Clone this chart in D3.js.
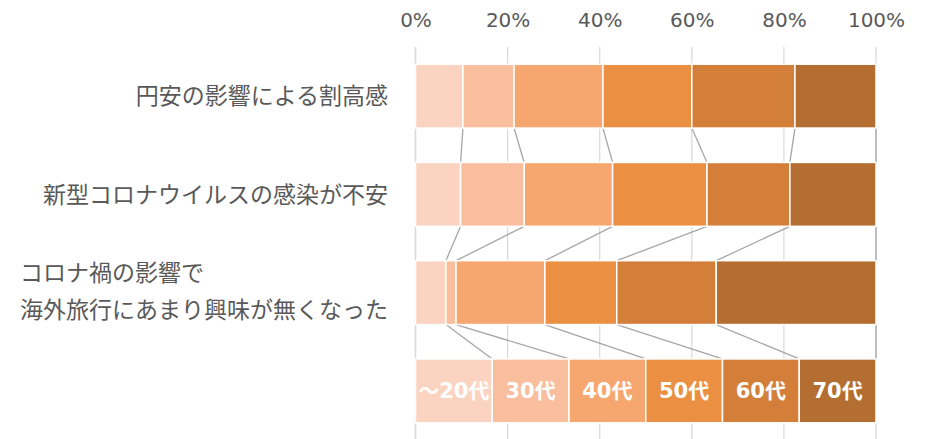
<!DOCTYPE html>
<html>
<head>
<meta charset="utf-8">
<script src="https://cdn.jsdelivr.net/npm/d3@7"></script>
<style>
  html, body { margin: 0; padding: 0; background: #fff; }
  svg { display: block; }
</style>
</head>
<body>
<svg id="chart" width="928" height="439"></svg>
<script>
// Reasons for not travelling abroad, share by age group (each row sums to 100%)
const categories = [
  "円安の影響による割高感",
  "新型コロナウイルスの感染が不安",
  "コロナ禍の影響で\n海外旅行にあまり興味が無くなった",
  ""
];
const ageGroups = ["～20代", "30代", "40代", "50代", "60代", "70代"];
const shareYen    = [10.3, 11.1, 19.3, 19.3, 22.4, 17.6];
const shareCovid  = [9.8, 13.8, 19.2, 20.5, 18.0, 18.7];
const shareNoInterest = [6.6, 2.2, 19.3, 15.6, 21.6, 34.7];
// bottom row acts as the legend: equal parts, one per age group
const shareLegend = [1, 1, 1, 1, 1, 1];
const tickValues = [0, 0.2, 0.4, 0.6, 0.8, 1.0];
const colors = ["#FAD4C0", "#F8BE9E", "#F6A76F", "#EB8F43", "#D37F3A", "#B46E32"];

const rows = [shareYen, shareCovid, shareNoInterest, shareLegend];
const table = rows.map((vals, i) => {
  const o = { category: i };
  ageGroups.forEach((g, j) => { o[g] = vals[j]; });
  return o;
});

const svg = d3.select("#chart");
const plot = { left: 415.5, right: 876, top: 47, bottom: 440 };

const x = d3.scaleLinear().domain([0, 1]).range([plot.left, plot.right]);
const y = d3.scaleBand()
  .domain(d3.range(categories.length))
  .range([plot.top, plot.bottom])
  .paddingInner(0.35)
  .paddingOuter(0.175);
const color = d3.scaleOrdinal().domain(ageGroups).range(colors);

const stack = d3.stack().keys(ageGroups).offset(d3.stackOffsetExpand);
const series = stack(table);

// vertical gridlines
svg.append("g")
  .selectAll("line")
  .data(tickValues)
  .join("line")
  .attr("x1", d => x(d)).attr("x2", d => x(d))
  .attr("y1", plot.top).attr("y2", plot.bottom)
  .attr("stroke", "#d9d9d9")
  .attr("stroke-width", (d, i) => i === 0 ? 1.6 : 1.2);

// percentage axis along the top
const axis = svg.append("g")
  .attr("transform", `translate(0,27)`)
  .call(d3.axisTop(x).tickValues(tickValues).tickFormat(d3.format(".0%")).tickSize(0).tickPadding(0));
axis.select(".domain").remove();
axis.selectAll("text")
  .attr("fill", "#595959")
  .style("font-family", "'DejaVu Sans', Verdana, sans-serif")
  .style("font-size", "20px");

// series lines linking the segment edges of neighbouring bars
const linkG = svg.append("g");
series.forEach(s => {
  for (let i = 0; i < s.length - 1; i++) {
    linkG.append("line")
      .attr("x1", x(s[i][1]))
      .attr("y1", y(i) + y.bandwidth())
      .attr("x2", x(s[i + 1][1]))
      .attr("y2", y(i + 1))
      .attr("stroke", "#a6a6a6")
      .attr("stroke-width", 1.3);
  }
});

// stacked segments
const layer = svg.append("g")
  .selectAll("g")
  .data(series)
  .join("g")
  .attr("fill", d => color(d.key));

layer.selectAll("rect")
  .data(d => d)
  .join("rect")
  .attr("x", d => x(d[0]))
  .attr("y", (d, i) => y(i))
  .attr("width", d => x(d[1]) - x(d[0]))
  .attr("height", y.bandwidth())
  .attr("stroke", "#fff")
  .attr("stroke-width", 1.5);

// age group names inside the legend row
const legendRow = categories.length - 1;
svg.append("g")
  .selectAll("text")
  .data(series)
  .join("text")
  .attr("x", d => (x(d[legendRow][0]) + x(d[legendRow][1])) / 2)
  .attr("y", y(legendRow) + y.bandwidth() / 2)
  .attr("dy", "0.36em")
  .attr("text-anchor", "middle")
  .attr("fill", "#fff")
  .style("font-family", "'DejaVu Sans', 'Noto Sans CJK JP', sans-serif")
  .style("font-weight", "bold")
  .style("font-size", "21px")
  .text(d => d.key);

// category labels, right edge at the label column, wrapped lines left-aligned
const labelRight = 388;
const lineHeight = 37;
const labelG = svg.append("g");
categories.forEach((c, i) => {
  if (!c) return;
  const lines = c.split("\n");
  const t = labelG.append("text")
    .attr("fill", "#595959")
    .style("font-family", "'DejaVu Sans', 'Noto Sans CJK JP', sans-serif")
    .style("font-size", "23px");
  const cy = y(i) + y.bandwidth() / 2 - (lines.length > 1 ? 1 : 0);
  lines.forEach((ln, k) => {
    t.append("tspan")
      .attr("y", cy + (k - (lines.length - 1) / 2) * lineHeight)
      .attr("dy", "0.36em")
      .text(ln);
  });
  const widths = t.selectAll("tspan").nodes().map(n => n.getComputedTextLength());
  const w = d3.max(widths);
  t.selectAll("tspan").attr("x", labelRight - w);
});
</script>
</body>
</html>
